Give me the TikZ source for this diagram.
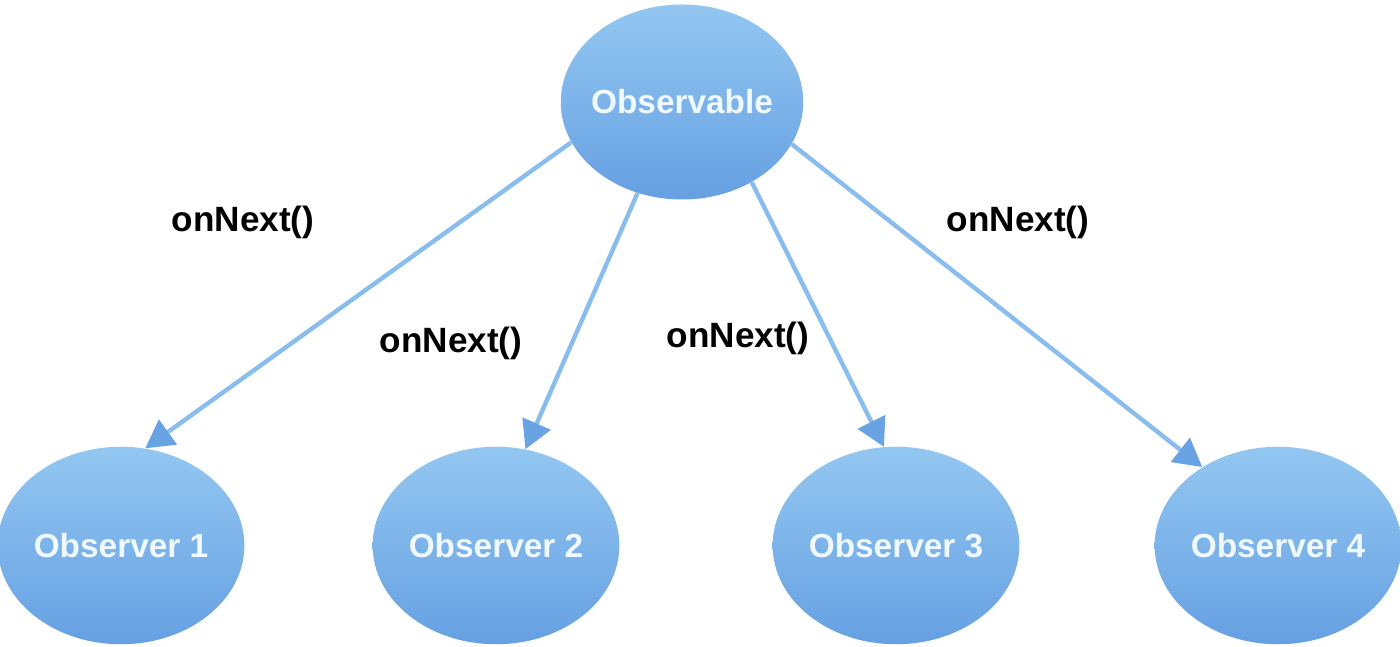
\documentclass[tikz,border=0pt]{standalone}
\usepackage{fontspec}
\setmainfont{Liberation Sans}
\usetikzlibrary{shapes.geometric, arrows.meta}
\definecolor{bubbletop}{HTML}{93C7F1}
\definecolor{bubblebottom}{HTML}{66A0E2}
\definecolor{arrowline}{HTML}{88BDEE}
\definecolor{arrowtip}{HTML}{6AA3E3}
\definecolor{bubbletext}{HTML}{F0F9FF}

\begin{document}
\begin{tikzpicture}[
    bubble/.style={ellipse, inner sep=0pt, minimum width=4.85cm, minimum height=3.95cm,
        top color=bubbletop, bottom color=bubblebottom, draw=none,
        text=bubbletext, font=\fontsize{19}{22}\selectfont\bfseries},
    call/.style={font=\fontsize{20}{24}\selectfont\bfseries, text=black},
    every edge/.append style={line width=2.5pt, draw=arrowline,
        -{Triangle[length=0.56cm, width=0.6cm, color=arrowtip]}}
]
   \useasboundingbox (0,0) rectangle (28,12.94);

   % Observable and observers
   \node[bubble, minimum height=3.9cm, inner xsep=-0.2cm] (obs) at (13.64,10.90) {Observable};
   \node[bubble] (o1) at (2.42,2.03) {Observer 1};
   \node[bubble] (o2) at (9.92,2.03) {Observer 2};
   \node[bubble] (o3) at (17.92,2.03) {Observer 3};
   \node[bubble] (o4) at (25.56,2.03) {Observer 4};

   % Emissions
   \path
   (obs.200) edge (o1.76)
   (obs.244) edge (o2.73)
   (obs.311) edge (o3.97)
   (obs.339) edge (o4.134);

   % Labels
   \node[call] (c1) at (4.86,8.50) {onNext()};
   \node[call] (c2) at (9.02,6.08) {onNext()};
   \node[call] (c3) at (14.76,6.18) {onNext()};
   \node[call] (c4) at (20.36,8.50) {onNext()};
\end{tikzpicture}
\end{document}
